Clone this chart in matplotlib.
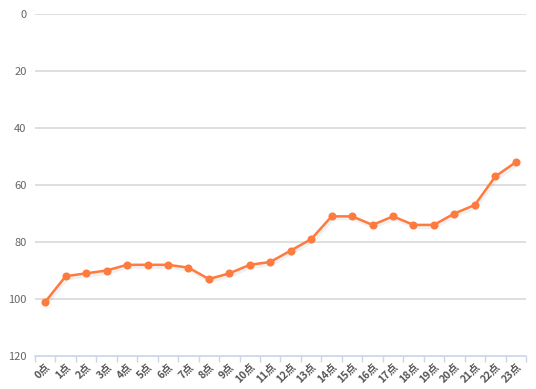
import matplotlib
matplotlib.use("Agg")
import matplotlib.pyplot as plt
import numpy as np

plt.rcParams['font.family'] = ['Noto Sans CJK SC', 'DejaVu Sans']

categories = [f"{h}点" for h in range(24)]
values = [101, 92, 91, 90, 88, 88, 88, 89, 93, 91, 88, 87,
          83, 79, 71, 71, 74, 71, 74, 74, 70, 67, 57, 52]
yticks = [0, 20, 40, 60, 80, 100, 120]

fig = plt.figure(figsize=(5.36, 3.89), dpi=100)
ax = fig.add_axes([35/536, 1-356/389, 491/536, 342/389])

x = np.arange(len(categories))
# soft shadow
ax.plot(x + 0.06, np.array(values) + 0.7, color='#000000', alpha=0.06, lw=3, zorder=2)
ax.plot(x, values, color='#FF7A3D', lw=1.8, marker='o', markersize=4.8,
        markeredgecolor='#FF7A3D', zorder=3)

ax.set_xlim(-0.5, len(categories) - 0.5)
ax.set_ylim(120, 0)
ax.set_yticks(yticks)
for y in yticks[:-1]:
    ax.axhline(y, color='#d9d9d9', lw=1.2, zorder=1)

for s in ['top', 'right', 'left']:
    ax.spines[s].set_visible(False)
ax.spines['bottom'].set_color('#c8d6e6')
ax.spines['bottom'].set_linewidth(1.2)

ax.set_xticks(np.arange(-0.5, len(categories)), minor=False)
ax.set_xticklabels([])
ax.tick_params(axis='x', which='major', length=4, color='#c8d6e6', width=1)
ax.set_xticks(x, minor=True)
ax.set_xticklabels(categories, minor=True, rotation=45, ha='right', va='top',
                   rotation_mode='anchor', fontsize=7.5, color='#555555',
                   fontweight='bold')
ax.tick_params(axis='x', which='minor', length=0, pad=4)

ax.tick_params(axis='y', length=0, pad=6, labelsize=8, labelcolor='#666666')

fig.savefig('out.png', dpi=100)
